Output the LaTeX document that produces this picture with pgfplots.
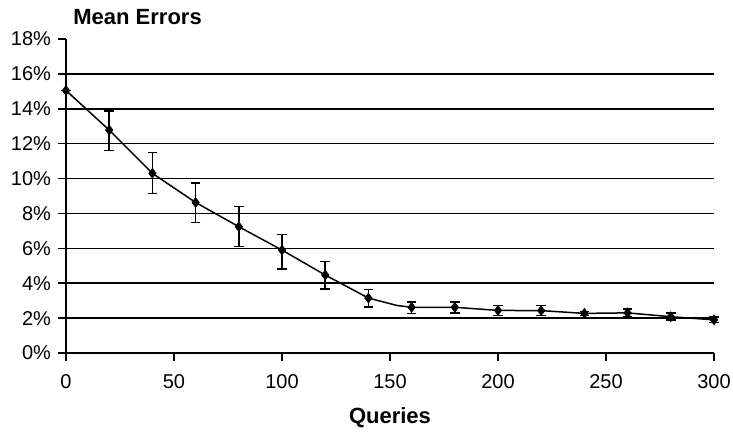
\documentclass[border=0pt]{standalone}
\usepackage{fontspec}
\setmainfont{Liberation Sans}
\usepackage{pgfplots}
\pgfplotsset{compat=1.18}
\begin{document}
\begin{tikzpicture}
\path[use as bounding box] (-33pt,-39.5pt) rectangle (333.5pt,176.5pt);
\begin{axis}[
  at={(0,0)}, anchor=origin,
  scale only axis,
  width=324pt, height=157pt,
  xmin=0, xmax=300, ymin=0, ymax=18,
  axis lines*=left,
  axis line style={line width=1pt, black},
  xtick={0,50,100,150,200,250,300},
  xticklabels={0,50,100,150,200,250,300},
  ytick={0,2,4,6,8,10,12,14,16,18},
  yticklabels={0\%,2\%,4\%,6\%,8\%,10\%,12\%,14\%,16\%,18\%},
  extra y ticks={2,4,6,8,10,12,14,16},
  extra y tick labels={},
  extra y tick style={grid=major, major tick length=0pt},
  grid style={black, line width=0.75pt},
  tick align=outside,
  major tick length=4pt,
  tick style={black, line width=0.75pt},
  ticklabel style={font=\fontsize{10}{12}\selectfont},
  xticklabel style={yshift=-3pt},
  xlabel={\textbf{Queries}},
  xlabel style={font=\fontsize{11}{13}\selectfont, at={(axis description cs:0.5,0)}, anchor=center, yshift=-32.5pt},
  clip=false,
]
\addplot[black, line width=0.75pt, no marks] coordinates {
(0,15.05) (20,12.78) (40,10.3) (48,9.63) (60,8.63) (80,7.24) (100,5.9) (120,4.47)
(140,3.15) (153,2.73) (160,2.62) (180,2.62) (200,2.44) (220,2.43) (240,2.27)
(260,2.3) (280,2.08) (300,1.9)
};
\addplot[black, only marks, mark=diamond*, mark size=2.4pt,
  error bars/.cd, y dir=both, y explicit,
  error bar style={line width=0.75pt, black},
  error mark options={rotate=90, mark size=2.4pt, line width=0.75pt, black}]
  coordinates {
(0,15.05) +- (0,0)
(20,12.78) += (0,1.09) -= (0,1.18)
(40,10.3) += (0,1.2) -= (0,1.15)
(60,8.63) += (0,1.11) -= (0,1.14)
(80,7.24) += (0,1.16) -= (0,1.14)
(100,5.9) += (0,0.9) -= (0,1.09)
(120,4.47) += (0,0.78) -= (0,0.79)
(140,3.15) += (0,0.5) -= (0,0.51)
(160,2.62) += (0,0.3) -= (0,0.35)
(180,2.62) += (0,0.3) -= (0,0.33)
(200,2.44) += (0,0.28) -= (0,0.3)
(220,2.43) += (0,0.28) -= (0,0.29)
(240,2.27) += (0,0.12) -= (0,0.12)
(260,2.3) += (0,0.22) -= (0,0.2)
(280,2.08) += (0,0.2) -= (0,0.2)
(300,1.9) += (0,0.15) -= (0,0.15)
};
\end{axis}
\node[anchor=west, font=\bfseries\fontsize{11}{13}\selectfont, inner sep=0pt] at (3.5pt,168pt) {Mean Errors};
\end{tikzpicture}
\end{document}
